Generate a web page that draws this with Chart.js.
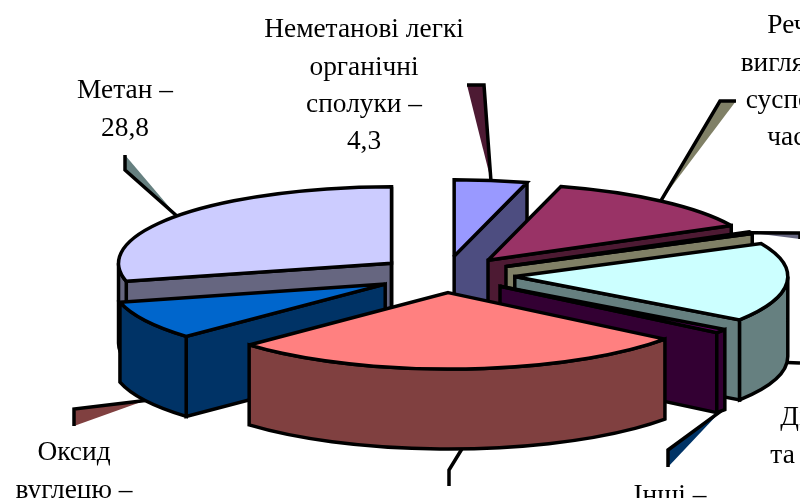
<!DOCTYPE html>
<html>
<head>
<meta charset="utf-8">
<style>
  html, body { margin: 0; padding: 0; background: #fff; overflow: hidden; }
  canvas { display: block; }
</style>
<script src="https://cdn.jsdelivr.net/npm/chart.js@4"></script>
</head>
<body>
<canvas id="myChart" width="800" height="498"></canvas>
<script>
// values, clockwise from 12 o'clock
const categories = [
  "Неметанові легкі органічні сполуки",
  "Речовини у вигляді суспендованих часток",
  "Сажа",
  "Діоксид сірки",
  "Інші",
  "Оксиди азоту",
  "Оксид вуглецю",
  "Метан",
];
const values = [4.3, 13.2, 0.4, 16.7, 0.8, 27.6, 8.2, 28.8];
const topColors = ["#9999FF", "#993366", "#FFFFCC", "#CCFFFF", "#660066", "#FF8080", "#0066CC", "#CCCCFF"];
const wallColors = ["#4D4D80", "#4D1A33", "#808066", "#668080", "#330033", "#804040", "#003366", "#666680"];

// how far each slice is pulled out
const explode = [68, 68, 68, 70, 68, 63, 68, 68];

// leader lines start on the rim of the slice, the rest is placement
const leaderBends = [
  [[484, 85], [467, 85]],
  [[720, 101], [736, 101]],
  [[800, 233], [800, 239]],
  [[800, 363], [800, 363]],
  [[668, 450], [668, 467]],
  [[449, 470], [449, 486]],
  [[74, 409], [74, 426]],
  [[125, 170], [125, 155]],
];
const leaderFill = ["#4D1A33", "#808066", "#666680", null, "#003366", null, "#804040", "#668080"];

const labelBlocks = [
  { x: 364, y: 30, lines: ["Неметанові легкі", "органічні", "сполуки –", "4,3"] },
  { x: 833, y: 26, lines: ["Речовини у", "вигляді твердих", "суспендованих", "часток – 13"] },
  { x: 827, y: 418, lines: ["Діоксид", "та азоту –"] },
  { x: 670, y: 496, lines: ["Інші –"] },
  { x: 74, y: 453, lines: ["Оксид", "вуглецю –"] },
  { x: 125, y: 91, lines: ["Метан –", "28,8"] },
];

const DEPTH = 80;     // height of the pie
const SQUASH = 0.28;  // tilt of the pie

function paint(ctx, fill) {
  ctx.fillStyle = fill;
  ctx.fill();
  ctx.stroke();
}

const pie3d = {
  id: "pie3d",
  beforeDatasetDraw(chart, args) {
    const ctx = chart.ctx;
    const arcs = args.meta.data;
    ctx.save();
    ctx.lineWidth = 3.5;
    ctx.strokeStyle = "#000";
    ctx.lineJoin = "miter";
    ctx.miterLimit = 2.5;

    // leaders go under the slices
    arcs.forEach((arc, i) => {
      const mid = (arc.startAngle + arc.endAngle) / 2;
      const off = arc.options.offset;
      const apexX = arc.x + Math.cos(mid) * off;
      const apexY = arc.y + Math.sin(mid) * off * SQUASH;
      const px = apexX + Math.cos(mid) * arc.outerRadius;
      const py = apexY + Math.sin(mid) * arc.outerRadius * SQUASH + (Math.sin(mid) > 0 ? DEPTH : 0);
      const [b1, b2] = leaderBends[i];
      if (leaderFill[i]) {
        ctx.beginPath();
        ctx.moveTo(px, py);
        ctx.lineTo(b1[0], b1[1]);
        ctx.lineTo(b2[0], b2[1]);
        ctx.closePath();
        ctx.fillStyle = leaderFill[i];
        ctx.fill();
      }
      ctx.beginPath();
      ctx.moveTo(px, py);
      ctx.lineTo(b1[0], b1[1]);
      ctx.lineTo(b2[0], b2[1]);
      ctx.stroke();
    });

    // back to front, the slice whose tip is highest goes first
    const order = arcs.map((arc, i) => i).sort((a, b) => {
      const ya = Math.sin((arcs[a].startAngle + arcs[a].endAngle) / 2) * arcs[a].options.offset;
      const yb = Math.sin((arcs[b].startAngle + arcs[b].endAngle) / 2) * arcs[b].options.offset;
      return ya - yb;
    });

    order.forEach((i) => {
      const arc = arcs[i];
      const a0 = arc.startAngle;
      const a1 = arc.endAngle;
      const mid = (a0 + a1) / 2;
      const off = arc.options.offset;
      const cx = arc.x + Math.cos(mid) * off;
      const cy = arc.y + Math.sin(mid) * off * SQUASH;
      const r = arc.outerRadius;

      // radial walls that face the viewer
      [[a0, Math.cos(a0) < 0], [a1, Math.cos(a1) > 0]].forEach(([a, visible]) => {
        if (!visible) return;
        const px = cx + Math.cos(a) * r;
        const py = cy + Math.sin(a) * r * SQUASH;
        ctx.beginPath();
        ctx.moveTo(cx, cy);
        ctx.lineTo(px, py);
        ctx.lineTo(px, py + DEPTH);
        ctx.lineTo(cx, cy + DEPTH);
        ctx.closePath();
        paint(ctx, wallColors[i]);
      });

      // outer rim, only the front half
      const from = Math.max(a0, 0);
      const to = Math.min(a1, Math.PI);
      if (to > from) {
        ctx.beginPath();
        ctx.ellipse(cx, cy, r, r * SQUASH, 0, from, to);
        ctx.ellipse(cx, cy + DEPTH, r, r * SQUASH, 0, to, from, true);
        ctx.closePath();
        paint(ctx, wallColors[i]);
      }

      // top face
      ctx.beginPath();
      ctx.moveTo(cx, cy);
      ctx.ellipse(cx, cy, r, r * SQUASH, 0, a0, a1);
      ctx.closePath();
      paint(ctx, topColors[i]);
    });

    ctx.restore();
    return false;
  },
  afterDatasetsDraw(chart) {
    const ctx = chart.ctx;
    ctx.save();
    ctx.fillStyle = "#000";
    ctx.font = '27.4px "Liberation Serif"';
    ctx.textAlign = "center";
    ctx.textBaseline = "middle";
    labelBlocks.forEach((block) => {
      block.lines.forEach((line, n) => {
        ctx.fillText(line, block.x, block.y + n * 37.4);
      });
    });
    ctx.restore();
  },
};

new Chart(document.getElementById("myChart"), {
  type: "pie",
  data: {
    labels: categories,
    datasets: [{
      data: values,
      backgroundColor: topColors,
      offset: explode,
      radius: 273,
    }],
  },
  options: {
    responsive: false,
    animation: false,
    layout: { padding: { left: 90, top: 52 } },
    plugins: { legend: { display: false }, tooltip: { enabled: false } },
  },
  plugins: [pie3d],
});
</script>
</body>
</html>
